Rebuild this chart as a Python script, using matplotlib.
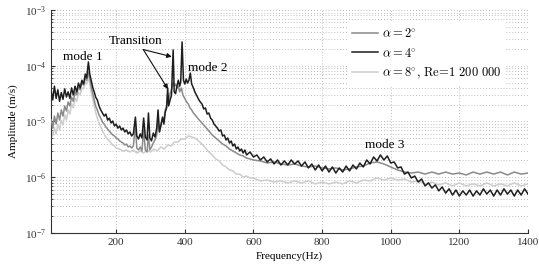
import matplotlib
matplotlib.use("Agg")
import matplotlib.pyplot as plt
from matplotlib.font_manager import FontProperties
from matplotlib.ticker import LogLocator, NullFormatter

plt.rcParams['font.family'] = ['Liberation Serif', 'DejaVu Serif']
plt.rcParams['mathtext.fontset'] = 'stix'

# ---------------- data ----------------
# alpha = 4 deg (black)
freq_a4 = [11, 15, 20, 25, 30, 35, 40, 45, 50, 55, 60, 65, 70, 75, 80, 85, 90, 95, 100, 105,
           110, 114, 119, 123, 127, 132, 136, 140, 145, 150, 155, 160, 165, 170, 175, 180, 185, 190,
           195, 200, 205, 210, 215, 220, 225, 230, 235, 240, 245, 250, 256, 260, 265, 270, 275, 280,
           285, 290, 294, 298, 303, 308, 313, 318, 322, 326, 330, 335, 339, 343, 347, 350, 353, 357,
           361, 366, 369, 373, 377, 381, 385, 388, 392, 396, 400, 404, 408, 412, 416, 420, 425, 430,
           435, 440, 445, 450, 455, 460, 465, 470, 475, 480, 485, 490, 495, 500, 505, 510, 515, 520,
           525, 530, 535, 540, 545, 550, 555, 560, 565, 570, 575, 580, 590, 600, 610, 620, 630, 640,
           650, 660, 670, 680, 690, 700, 710, 720, 730, 740, 750, 760, 770, 780, 790, 800, 810, 820,
           830, 840, 850, 860, 870, 880, 890, 900, 910, 920, 930, 940, 950, 960, 970, 980, 990, 1000,
           1010, 1020, 1030, 1040, 1050, 1060, 1070, 1080, 1090, 1100, 1110, 1120, 1130, 1140, 1150,
           1160, 1170, 1180, 1190, 1200, 1210, 1220, 1230, 1240, 1250, 1260, 1270, 1280, 1290, 1300,
           1310, 1320, 1330, 1340, 1350, 1360, 1370, 1380, 1390, 1400]
amp_a4 = [3.4e-5, 2.43e-5, 4.3e-5, 2.6e-5, 3.7e-5, 2.3e-5, 3.3e-5, 2.5e-5, 3.85e-5, 2.75e-5,
          3.4e-5, 2.6e-5, 4.0e-5, 3.0e-5, 4.3e-5, 3.4e-5, 4.9e-5, 4.0e-5, 5.5e-5, 4.7e-5,
          7.1e-5, 6.0e-5, 1.17e-4, 7.1e-5, 5.5e-5, 4.0e-5, 3.4e-5, 2.75e-5, 2.43e-5, 1.9e-5,
          1.61e-5, 1.42e-5, 1.25e-5, 1.36e-5, 1.06e-5, 1.15e-5, 9.4e-6, 1.02e-5, 8.3e-6, 9.0e-6,
          7.6e-6, 8.3e-6, 7.05e-6, 7.6e-6, 6.5e-6, 7.05e-6, 6.0e-6, 6.5e-6, 5.5e-6, 6.0e-6,
          1.2e-5, 5.5e-6, 4.85e-6, 6.0e-6, 5.06e-6, 1.15e-5, 5.27e-6, 4.66e-6, 1.42e-5, 5.06e-6,
          4.5e-6, 6.2e-6, 5.27e-6, 7.6e-6, 1.61e-5, 6.5e-6, 8.3e-6, 1.2e-5, 9.0e-6, 1.48e-5,
          1.75e-5, 4.0e-5, 1.9e-5, 2.43e-5, 2.9e-5, 1.92e-4, 3.4e-5, 3.15e-5, 4.3e-5, 5.5e-5,
          4.3e-5, 5.1e-5, 2.67e-4, 5.5e-5, 4.7e-5, 5.75e-5, 4.9e-5, 5.5e-5, 7.4e-5, 4.7e-5,
          4.0e-5, 3.3e-5, 2.9e-5, 2.5e-5, 2.24e-5, 2.06e-5, 1.68e-5, 1.75e-5, 1.36e-5, 1.42e-5,
          1.15e-5, 1.06e-5, 9.0e-6, 8.3e-6, 7.6e-6, 6.75e-6, 7.05e-6, 5.5e-6, 5.73e-6, 4.66e-6,
          5.06e-6, 4.11e-6, 4.47e-6, 3.64e-6, 3.95e-6, 3.21e-6, 3.49e-6, 2.96e-6, 3.21e-6, 2.72e-6,
          3.08e-6, 2.51e-6, 2.84e-6, 2.31e-6, 2.51e-6, 2.04e-6, 2.31e-6, 1.88e-6, 2.13e-6, 1.73e-6,
          2.04e-6, 1.66e-6, 1.96e-6, 1.66e-6, 2.04e-6, 1.73e-6, 1.96e-6, 1.59e-6, 1.88e-6, 1.47e-6,
          1.73e-6, 1.35e-6, 1.66e-6, 1.30e-6, 1.59e-6, 1.24e-6, 1.53e-6, 1.19e-6, 1.47e-6, 1.24e-6,
          1.59e-6, 1.30e-6, 1.66e-6, 1.41e-6, 1.80e-6, 1.53e-6, 2.04e-6, 1.73e-6, 2.31e-6, 1.96e-6,
          2.51e-6, 2.04e-6, 2.41e-6, 1.80e-6, 1.88e-6, 1.47e-6, 1.53e-6, 1.14e-6, 1.24e-6, 9.7e-7,
          1.05e-6, 8.2e-7, 9.3e-7, 7.0e-7, 7.9e-7, 6.4e-7, 7.3e-7, 5.7e-7, 6.7e-7, 5.2e-7,
          6.2e-7, 4.8e-7, 5.9e-7, 4.6e-7, 5.7e-7, 4.8e-7, 5.9e-7, 4.6e-7, 5.7e-7, 4.8e-7,
          6.2e-7, 5.0e-7, 5.9e-7, 4.6e-7, 5.9e-7, 4.8e-7, 6.2e-7, 5.0e-7, 5.9e-7, 4.6e-7,
          5.9e-7, 4.8e-7, 6.2e-7, 5.0e-7]

# alpha = 2 deg (mid grey)
freq_a2 = [11, 15, 20, 25, 30, 35, 40, 45, 50, 55, 60, 65, 70, 75, 80, 85, 90, 95, 100, 105,
           110, 114, 119, 123, 127, 132, 136, 140, 145, 150, 155, 160, 165, 170, 175, 180, 185, 190,
           195, 200, 205, 210, 215, 220, 225, 230, 235, 240, 245, 250, 256, 260, 265, 270, 275, 280,
           285, 290, 294, 298, 303, 308, 313, 318, 322, 326, 330, 335, 339, 343, 347, 350, 353, 357,
           361, 366, 369, 373, 377, 381, 385, 390, 395, 400, 405, 410, 415, 420, 425, 430, 440, 450,
           460, 470, 480, 490, 500, 510, 520, 530, 540, 550, 560, 570, 580, 590, 600, 620, 640, 660,
           680, 700, 720, 740, 760, 780, 800, 820, 840, 860, 880, 900, 920, 940, 960, 980, 1000,
           1020, 1040, 1060, 1080, 1100, 1120, 1140, 1160, 1180, 1200, 1220, 1240, 1260, 1280, 1300,
           1320, 1340, 1360, 1380, 1400]
amp_a2 = [1.06e-5, 7.6e-6, 1.25e-5, 9.0e-6, 1.42e-5, 1.06e-5, 1.61e-5, 1.25e-5, 1.9e-5, 1.55e-5,
          2.24e-5, 1.9e-5, 2.75e-5, 2.3e-5, 3.4e-5, 3.0e-5, 4.15e-5, 3.7e-5, 4.9e-5, 4.5e-5,
          6.0e-5, 5.5e-5, 7.7e-5, 6.0e-5, 4.3e-5, 3.15e-5, 2.43e-5, 1.9e-5, 1.61e-5, 1.31e-5,
          1.15e-5, 9.8e-6, 9.0e-6, 8.0e-6, 7.3e-6, 6.75e-6, 6.2e-6, 5.73e-6, 5.5e-6, 5.06e-6,
          4.85e-6, 4.47e-6, 4.29e-6, 4.11e-6, 3.79e-6, 3.95e-6, 3.49e-6, 3.64e-6, 3.35e-6, 3.64e-6,
          8.65e-6, 3.35e-6, 3.08e-6, 3.49e-6, 2.96e-6, 7.05e-6, 3.08e-6, 2.84e-6, 5.73e-6, 3.08e-6,
          3.49e-6, 4.11e-6, 4.66e-6, 5.73e-6, 9.8e-6, 6.5e-6, 8.65e-6, 1.15e-5, 1.06e-5, 1.61e-5,
          1.9e-5, 3.0e-5, 2.43e-5, 3.15e-5, 3.7e-5, 5.1e-5, 4.3e-5, 4.7e-5, 4.0e-5, 4.3e-5,
          3.4e-5, 4.0e-5, 2.9e-5, 2.6e-5, 2.24e-5, 2.06e-5, 1.75e-5, 1.61e-5, 1.42e-5, 1.31e-5,
          1.1e-5, 9.4e-6, 8.0e-6, 6.75e-6, 5.73e-6, 5.06e-6, 4.47e-6, 3.95e-6, 3.64e-6, 3.21e-6,
          2.96e-6, 2.72e-6, 2.51e-6, 2.41e-6, 2.21e-6, 2.13e-6, 2.04e-6, 1.96e-6, 1.80e-6, 1.88e-6,
          1.73e-6, 1.66e-6, 1.73e-6, 1.59e-6, 1.53e-6, 1.59e-6, 1.47e-6, 1.41e-6, 1.47e-6, 1.35e-6,
          1.41e-6, 1.53e-6, 1.59e-6, 1.80e-6, 1.88e-6, 1.73e-6, 1.53e-6, 1.35e-6, 1.24e-6, 1.19e-6,
          1.24e-6, 1.14e-6, 1.24e-6, 1.14e-6, 1.24e-6, 1.14e-6, 1.19e-6, 1.10e-6, 1.24e-6, 1.14e-6,
          1.24e-6, 1.14e-6, 1.24e-6, 1.10e-6, 1.24e-6, 1.14e-6, 1.19e-6]

# alpha = 8 deg, Re = 1 200 000 (light grey)
freq_a8 = [11, 15, 20, 25, 30, 35, 40, 45, 50, 55, 60, 65, 70, 75, 80, 85, 90, 95, 100, 105,
           110, 114, 119, 123, 127, 132, 136, 140, 145, 150, 155, 160, 165, 170, 175, 180, 185, 190,
           195, 200, 210, 220, 230, 240, 250, 260, 270, 280, 290, 300, 310, 320, 330, 340, 350, 360,
           370, 380, 390, 400, 410, 420, 430, 440, 450, 460, 470, 480, 490, 500, 510, 520, 530, 540,
           550, 560, 570, 580, 590, 600, 620, 640, 660, 680, 700, 720, 740, 760, 780, 800, 820, 840,
           860, 880, 900, 920, 940, 960, 980, 1000, 1020, 1040, 1060, 1080, 1100, 1120, 1140, 1160,
           1180, 1200, 1220, 1240, 1260, 1280, 1300, 1320, 1340, 1360, 1380, 1400]
amp_a8 = [7.05e-6, 5.5e-6, 7.6e-6, 6.0e-6, 9.0e-6, 7.05e-6, 1.06e-5, 8.65e-6, 1.31e-5, 1.06e-5,
          1.61e-5, 1.36e-5, 2.06e-5, 1.75e-5, 2.6e-5, 2.3e-5, 3.3e-5, 3.0e-5, 4.0e-5, 3.85e-5,
          5.1e-5, 4.7e-5, 6.3e-5, 4.7e-5, 3.4e-5, 2.43e-5, 1.9e-5, 1.48e-5, 1.15e-5, 9.4e-6,
          8.0e-6, 6.75e-6, 6.0e-6, 5.27e-6, 4.85e-6, 4.47e-6, 4.11e-6, 3.79e-6, 3.64e-6, 3.35e-6,
          3.21e-6, 2.96e-6, 3.08e-6, 2.84e-6, 3.08e-6, 2.72e-6, 2.96e-6, 2.72e-6, 3.08e-6, 2.84e-6,
          3.21e-6, 2.96e-6, 3.49e-6, 3.21e-6, 3.79e-6, 3.64e-6, 4.29e-6, 4.29e-6, 4.85e-6, 4.85e-6,
          5.5e-6, 5.27e-6, 5.06e-6, 4.47e-6, 3.95e-6, 3.35e-6, 2.84e-6, 2.51e-6, 2.13e-6, 1.96e-6,
          1.66e-6, 1.53e-6, 1.35e-6, 1.30e-6, 1.14e-6, 1.14e-6, 1.01e-6, 1.05e-6, 9.7e-7, 9.7e-7,
          8.6e-7, 8.9e-7, 8.2e-7, 8.6e-7, 7.9e-7, 8.6e-7, 7.9e-7, 8.6e-7, 7.6e-7, 8.2e-7,
          7.6e-7, 8.2e-7, 7.6e-7, 8.6e-7, 7.9e-7, 8.9e-7, 8.6e-7, 9.7e-7, 8.9e-7, 9.7e-7,
          8.9e-7, 9.3e-7, 8.2e-7, 8.6e-7, 7.6e-7, 8.2e-7, 7.3e-7, 7.9e-7, 7.0e-7, 7.9e-7,
          7.0e-7, 7.6e-7, 7.0e-7, 7.9e-7, 7.0e-7, 7.6e-7, 7.0e-7, 7.9e-7, 7.0e-7, 7.6e-7]

labels = [r'$\alpha = 2^{\circ}$', r'$\alpha = 4^{\circ}$', r'$\alpha = 8^{\circ}$, Re=1 200 000']
x_ticks = [200, 400, 600, 800, 1000, 1200, 1400]

# ---------------- figure ----------------
fig = plt.figure(figsize=(5.39, 2.73), dpi=100)
ax = fig.add_axes([0.0946, 0.1465, 0.885, 0.8169])

c2, c4, c8 = '#8a8a8a', '#1e1e1e', '#cdcdcd'
l8, = ax.plot(freq_a8, amp_a8, color=c8, lw=1.1, zorder=2)
l2, = ax.plot(freq_a2, amp_a2, color=c2, lw=1.1, zorder=3)
l4, = ax.plot(freq_a4, amp_a4, color=c4, lw=1.1, zorder=4)

ax.set_yscale('log')
ax.set_xlim(10, 1400)
ax.set_ylim(1e-7, 1e-3)
ax.set_xticks(x_ticks)
ax.yaxis.set_major_locator(LogLocator(base=10, numticks=10))
ax.yaxis.set_minor_locator(LogLocator(base=10, subs=range(2, 10), numticks=20))
ax.yaxis.set_minor_formatter(NullFormatter())

gstyle = dict(ls=(0, (1, 2.5)), color='#a8a8a8', lw=0.6, zorder=0)
ax.grid(True, which='major', axis='both', **gstyle)
ax.grid(True, which='minor', axis='y', **gstyle)
ax.set_axisbelow(True)

for s in ['top', 'right']:
    ax.spines[s].set_visible(False)
for s in ['left', 'bottom']:
    ax.spines[s].set_linewidth(0.8)
    ax.spines[s].set_color('#333333')

ax.tick_params(which='both', direction='in', labelsize=8, colors='#333333')
ax.tick_params(which='major', length=3)
ax.tick_params(which='minor', length=1.5)

ax.set_xlabel('Frequency(Hz)', fontsize=8, labelpad=3)
ax.set_ylabel('Amplitude (m/s)', fontsize=8, labelpad=5)

# annotations
ax.text(104, 1.44e-4, 'mode 1', fontsize=9.5, ha='center', va='center')
ax.text(468, 9.1e-5, 'mode 2', fontsize=9.5, ha='center', va='center')
ax.text(983, 3.8e-6, 'mode 3', fontsize=9.5, ha='center', va='center')
ax.text(256, 2.8e-4, 'Transition', fontsize=9.5, ha='center', va='center')
ap = dict(arrowstyle='-|>', color='#111111', lw=0.8, mutation_scale=7, shrinkA=0, shrinkB=0)
ax.annotate('', xy=(362, 1.45e-4), xytext=(279, 1.95e-4), arrowprops=ap)
ax.annotate('', xy=(351, 3.8e-5), xytext=(279, 1.95e-4), arrowprops=ap)

leg_font = FontProperties(family='cmr10', size=9, math_fontfamily='cm')
leg = ax.legend([l2, l4, l8], labels, prop=leg_font, loc='upper left',
                bbox_to_anchor=(0.62, 0.945), borderaxespad=0, frameon=True,
                handlelength=2.1, handletextpad=0.3, labelspacing=0.5, borderpad=0.4)
leg.get_frame().set_edgecolor('none')
leg.get_frame().set_facecolor('white')
leg.get_frame().set_alpha(1)
leg.set_zorder(5)

fig.savefig('out.png', dpi=100)
